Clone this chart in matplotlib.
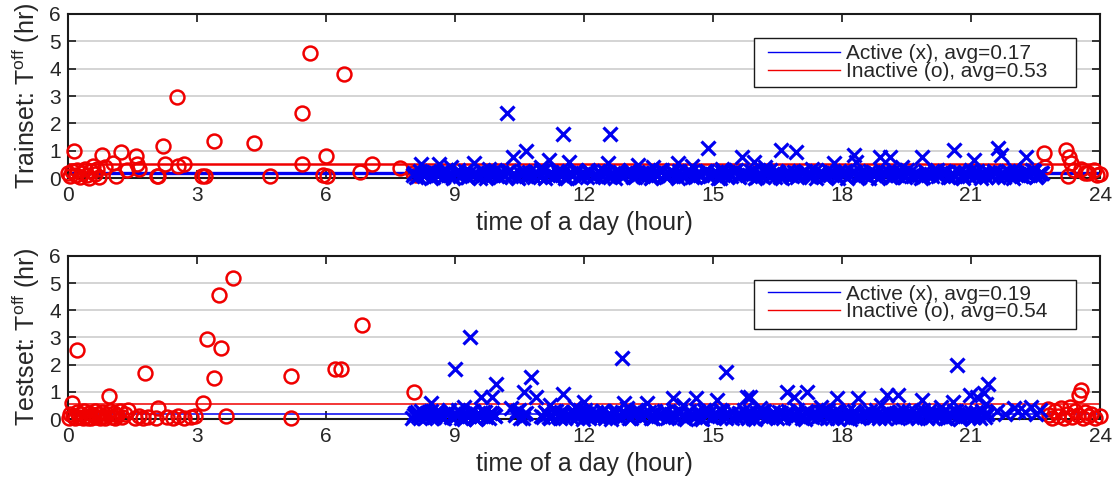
import matplotlib
matplotlib.use("Agg")
import matplotlib.pyplot as plt
from matplotlib.lines import Line2D
from matplotlib.patches import Rectangle

plt.rcParams["font.family"] = ["Liberation Sans", "DejaVu Sans"]
plt.rcParams["mathtext.fontset"] = "custom"
plt.rcParams["mathtext.rm"] = "Liberation Sans"
plt.rcParams["mathtext.it"] = "Liberation Sans:italic"

# ---------------- Trainset ----------------
train_active_avg = 0.17
train_inactive_avg = 0.53

train_inactive_t = [0.15, 0.00, 0.05, 0.10, 0.18, 0.22, 0.28, 0.33, 0.40, 0.45,
                    0.50, 0.53, 0.58, 0.62, 0.68, 0.72, 0.80, 0.85, 1.05, 1.12,
                    1.24, 1.37, 1.58, 1.60, 1.66, 2.07, 2.10, 2.20, 2.26, 2.53,
                    2.56, 2.70, 3.12, 3.18, 3.40, 4.32, 4.69, 5.44, 5.45, 5.62,
                    5.93, 5.99, 6.02, 6.42, 6.80, 7.08, 7.73, 8.03, 8.10,
                    22.70, 22.72, 23.21, 23.25, 23.28, 23.32, 23.40, 23.56, 23.65, 23.71,
                    23.86, 23.92, 24.00]
train_inactive_v = [1.00, 0.18, 0.08, 0.25, 0.12, 0.30, 0.05, 0.20, 0.35, 0.10,
                    0.02, 0.25, 0.45, 0.15, 0.32, 0.05, 0.85, 0.40, 0.55, 0.06,
                    0.94, 0.29, 0.80, 0.50, 0.35, 0.07, 0.06, 1.18, 0.52, 2.96,
                    0.45, 0.51, 0.06, 0.06, 1.34, 1.28, 0.06, 2.38, 0.51, 4.57,
                    0.12, 0.79, 0.06, 3.82, 0.24, 0.52, 0.37, 0.18, 0.10,
                    0.91, 0.40, 1.02, 0.07, 0.77, 0.55, 0.30, 0.35, 0.20, 0.17,
                    0.29, 0.10, 0.15]

train_active_t = [8.02, 8.09, 8.18, 8.27, 8.33, 8.44, 8.51, 8.60, 8.71, 8.78,
                  8.87, 8.96, 9.05, 9.12, 9.23, 9.31, 9.40, 9.49, 9.57, 9.68,
                  9.75, 9.84, 9.93, 10.04, 10.11, 10.20, 10.31, 10.38, 10.47, 10.58,
                  10.66, 10.73, 10.84, 10.93, 11.01, 11.10, 11.21, 11.28, 11.37, 11.48,
                  11.55, 11.66, 11.74, 11.83, 11.92, 12.02, 12.09, 12.20, 12.29, 12.36,
                  12.47, 12.55, 12.64, 12.73, 12.83, 12.90, 13.01, 13.08, 13.19, 13.27,
                  13.36, 13.44, 13.55, 13.62, 13.73, 13.81, 13.90, 13.99, 14.08, 14.18,
                  14.25, 14.35, 14.44, 14.52, 14.63, 14.70, 14.81, 14.89, 14.98, 15.07,
                  15.16, 15.24, 15.35, 15.42, 15.53, 15.61, 15.70, 15.79, 15.88, 15.97,
                  16.06, 16.14, 16.25, 16.32, 16.43, 16.50, 16.61, 16.69, 16.78, 16.88,
                  16.95, 17.05, 17.13, 17.22, 17.31, 17.40, 17.49, 17.57, 17.68, 17.75,
                  17.86, 17.93, 18.04, 18.12, 18.22, 18.30, 18.39, 18.48, 18.58, 18.65,
                  18.76, 18.83, 18.94, 19.02, 19.11, 19.21, 19.28, 19.39, 19.46, 19.57,
                  19.64, 19.75, 19.83, 19.93, 20.01, 20.10, 20.20, 20.27, 20.38, 20.46,
                  20.56, 20.63, 20.74, 20.82, 20.91, 21.00, 21.09, 21.18, 21.27, 21.35,
                  21.45, 21.53, 21.62, 21.71, 21.80, 21.89, 21.98, 22.06, 22.16, 22.24,
                  22.33, 22.41, 22.50, 22.58, 22.66,
                  8.05, 8.13, 8.24, 8.40, 8.48, 8.56, 8.67, 8.83, 8.92, 9.00,
                  9.08, 9.17, 9.27, 9.36, 9.44, 9.53, 9.63, 9.72, 9.80, 9.89,
                  9.97, 10.08, 10.16, 10.25, 10.35, 10.43, 10.52, 10.62, 10.70, 10.79,
                  10.88, 10.97, 11.06, 11.16, 11.24, 11.33, 11.42, 11.52, 11.60, 11.70,
                  11.79, 11.88, 11.97, 12.06, 12.15, 12.25, 12.33, 12.42, 12.51, 12.60,
                  12.69, 12.78, 12.87, 12.96, 13.05, 13.14, 13.23, 13.32, 13.41, 13.50,
                  13.59, 13.68, 13.77, 13.86, 13.95, 14.04, 14.13, 14.22, 14.31, 14.40,
                  14.48, 14.57, 14.66, 14.75, 14.85, 14.94, 15.03, 15.12, 15.20, 15.30,
                  15.39, 15.48, 15.57, 15.66, 15.75, 15.84, 15.93, 16.02, 16.10, 16.20,
                  16.29, 16.38, 16.47, 16.56, 16.65, 16.74, 16.83, 16.92, 17.00, 17.10,
                  17.18, 17.27, 17.36, 17.45, 17.54, 17.63, 17.72, 17.81, 17.90, 17.99,
                  18.08, 18.17, 18.26, 18.35, 18.44, 18.53, 18.62, 18.71, 18.80, 18.89,
                  18.98, 19.07, 19.16, 19.25, 19.34, 19.43, 19.52, 19.61, 19.70, 19.79,
                  19.88, 19.97, 20.06, 20.15, 20.24, 20.33, 20.42, 20.51, 20.60, 20.69,
                  20.78, 20.87, 20.96, 21.05, 21.14, 21.23, 21.31, 21.40, 21.49, 21.58,
                  21.67, 21.76, 21.85, 21.94, 22.03, 22.12, 22.20, 22.29, 22.37, 22.46,
                  22.54, 22.62,
                  8.20, 8.62, 9.45, 10.21, 10.36, 10.65, 11.19, 11.52, 11.64, 12.55,
                  12.60, 13.25, 14.18, 14.88, 15.68, 15.95, 16.57, 16.92, 17.82, 18.28,
                  18.32, 18.88, 19.11, 19.87, 20.61, 21.07, 21.62, 21.69, 22.28,
                  8.90, 9.80, 11.00, 12.10, 13.60, 14.50, 15.20, 16.20, 17.30, 19.40,
                  20.20, 22.00]
train_active_v = [0.12, 0.03, 0.25, 0.08, 0.18, 0.01, 0.22, 0.10, 0.05, 0.28,
                  0.15, 0.02, 0.20, 0.09, 0.26, 0.04, 0.13, 0.19, 0.01, 0.24,
                  0.07, 0.17, 0.29, 0.03, 0.11, 0.21, 0.06, 0.16, 0.02, 0.27,
                  0.09, 0.23, 0.04, 0.14, 0.30, 0.01, 0.18, 0.08, 0.25, 0.12,
                  0.02, 0.20, 0.10, 0.27, 0.05, 0.15, 0.22, 0.03, 0.11, 0.19,
                  0.26, 0.06, 0.13, 0.01, 0.21, 0.09, 0.17, 0.28, 0.04, 0.14,
                  0.08, 0.24, 0.02, 0.19, 0.11, 0.29, 0.05, 0.16, 0.22, 0.01,
                  0.13, 0.07, 0.25, 0.03, 0.18, 0.10, 0.27, 0.06, 0.15, 0.21,
                  0.01, 0.12, 0.23, 0.09, 0.30, 0.04, 0.17, 0.11, 0.26, 0.02,
                  0.20, 0.08, 0.14, 0.28, 0.05, 0.22, 0.01, 0.16, 0.10, 0.24,
                  0.03, 0.19, 0.27, 0.07, 0.13, 0.02, 0.21, 0.09, 0.29, 0.15,
                  0.06, 0.25, 0.11, 0.01, 0.18, 0.23, 0.04, 0.14, 0.08, 0.26,
                  0.17, 0.02, 0.22, 0.12, 0.05, 0.28, 0.10, 0.19, 0.03, 0.24,
                  0.09, 0.15, 0.01, 0.27, 0.13, 0.06, 0.20, 0.11, 0.25, 0.04,
                  0.18, 0.08, 0.23, 0.02, 0.16, 0.29, 0.07, 0.12, 0.21, 0.05,
                  0.14, 0.26, 0.03, 0.19, 0.10, 0.24, 0.01, 0.17, 0.08, 0.22,
                  0.11, 0.28, 0.04, 0.15, 0.20,
                  0.20, 0.07, 0.14, 0.27, 0.03, 0.17, 0.23, 0.11, 0.06, 0.19,
                  0.28, 0.12, 0.04, 0.22, 0.16, 0.09, 0.25, 0.02, 0.18, 0.13,
                  0.06, 0.21, 0.10, 0.26, 0.15, 0.03, 0.19, 0.24, 0.08, 0.12,
                  0.17, 0.05, 0.28, 0.11, 0.20, 0.07, 0.14, 0.23, 0.02, 0.18,
                  0.25, 0.09, 0.16, 0.04, 0.21, 0.12, 0.27, 0.07, 0.19, 0.03,
                  0.14, 0.22, 0.08, 0.18, 0.26, 0.05, 0.11, 0.20, 0.15, 0.24,
                  0.03, 0.17, 0.28, 0.10, 0.06, 0.21, 0.13, 0.25, 0.09, 0.16,
                  0.22, 0.04, 0.19, 0.12, 0.27, 0.08, 0.15, 0.02, 0.23, 0.11,
                  0.18, 0.26, 0.06, 0.14, 0.20, 0.10, 0.24, 0.05, 0.17, 0.28,
                  0.09, 0.13, 0.21, 0.03, 0.16, 0.25, 0.07, 0.19, 0.12, 0.22,
                  0.15, 0.04, 0.26, 0.11, 0.18, 0.08, 0.23, 0.14, 0.01, 0.20,
                  0.27, 0.10, 0.17, 0.06, 0.24, 0.13, 0.02, 0.21, 0.16, 0.09,
                  0.19, 0.25, 0.05, 0.14, 0.22, 0.11, 0.28, 0.07, 0.18, 0.12,
                  0.03, 0.20, 0.15, 0.26, 0.08, 0.17, 0.23, 0.04, 0.13, 0.21,
                  0.10, 0.24, 0.06, 0.18, 0.27, 0.02, 0.15, 0.22, 0.09, 0.19,
                  0.14, 0.05, 0.25, 0.11, 0.20, 0.16, 0.07, 0.23, 0.12, 0.26,
                  0.08, 0.18,
                  0.50, 0.50, 0.54, 2.37, 0.78, 1.00, 0.66, 1.60, 0.60, 0.55,
                  1.60, 0.48, 0.54, 1.11, 0.78, 0.60, 1.03, 0.96, 0.54, 0.85,
                  0.60, 0.78, 0.78, 0.78, 1.03, 0.66, 1.10, 0.85, 0.78,
                  0.40, 0.35, 0.40, 0.30, 0.40, 0.45, 0.35, 0.40, 0.35, 0.40,
                  0.30, 0.35]

# ---------------- Testset ----------------
test_active_avg = 0.19
test_inactive_avg = 0.54

test_inactive_t = [0.02, 0.05, 0.09, 0.12, 0.16, 0.20, 0.22, 0.25, 0.30, 0.34,
                   0.38, 0.42, 0.46, 0.50, 0.54, 0.58, 0.62, 0.66, 0.70, 0.74,
                   0.78, 0.82, 0.86, 0.90, 0.96, 0.98, 1.02, 1.06, 1.10, 1.14,
                   1.20, 1.26, 1.32, 1.40, 1.55, 1.65, 1.75, 1.79, 1.85, 2.05,
                   2.10, 2.30, 2.45, 2.55, 2.70, 2.85, 2.95, 3.13, 3.24, 3.39,
                   3.51, 3.55, 3.67, 3.83, 5.19, 5.19, 6.21, 6.35, 6.83, 8.04,
                   22.78, 22.82, 22.88, 22.95, 23.02, 23.10, 23.15, 23.22, 23.30, 23.35,
                   23.42, 23.48, 23.52, 23.56, 23.60, 23.65, 23.72, 23.80, 23.88, 23.99]
test_inactive_v = [0.05, 0.20, 0.60, 0.10, 0.02, 0.25, 2.52, 0.08, 0.18, 0.03,
                   0.28, 0.12, 0.05, 0.22, 0.02, 0.15, 0.30, 0.08, 0.20, 0.03,
                   0.25, 0.12, 0.05, 0.18, 0.85, 0.30, 0.08, 0.22, 0.02, 0.15,
                   0.28, 0.06, 0.18, 0.33, 0.05, 0.10, 0.04, 1.68, 0.08, 0.05,
                   0.40, 0.06, 0.03, 0.10, 0.05, 0.08, 0.12, 0.60, 2.94, 1.50,
                   4.56, 2.60, 0.11, 5.18, 1.58, 0.02, 1.83, 1.83, 3.46, 1.00,
                   0.37, 0.15, 0.05, 0.28, 0.10, 0.40, 0.02, 0.20, 0.45, 0.08,
                   0.30, 0.15, 0.90, 1.08, 0.05, 0.25, 0.10, 0.18, 0.05, 0.12]

test_active_t = [8.01, 8.07, 8.15, 8.22, 8.31, 8.38, 8.47, 8.55, 8.62, 8.71,
                 8.79, 8.86, 8.95, 9.04, 9.11, 9.20, 9.28, 9.37, 9.45, 9.52,
                 9.61, 9.69, 9.78, 9.86, 9.94, 10.40, 10.48, 10.57, 10.66, 11.05,
                 11.13, 11.22, 11.30, 11.39, 11.47, 11.56, 11.64, 11.73, 11.81, 11.90,
                 11.98, 12.07, 12.15, 12.24, 12.32, 12.41, 12.49, 12.58, 12.66, 12.75,
                 12.83, 12.92, 13.00, 13.09, 13.17, 13.26, 13.34, 13.43, 13.51, 13.60,
                 13.68, 13.77, 13.85, 13.94, 14.02, 14.11, 14.19, 14.28, 14.36, 14.45,
                 14.53, 14.62, 14.70, 14.79, 14.87, 14.96, 15.04, 15.13, 15.21, 15.30,
                 15.38, 15.47, 15.55, 15.64, 15.72, 15.81, 15.89, 15.98, 16.06, 16.15,
                 16.23, 16.32, 16.40, 16.49, 16.57, 16.66, 16.74, 16.83, 16.91, 17.00,
                 17.08, 17.17, 17.25, 17.34, 17.42, 17.51, 17.59, 17.68, 17.76, 17.85,
                 17.93, 18.02, 18.10, 18.19, 18.27, 18.36, 18.44, 18.53, 18.61, 18.70,
                 18.78, 18.87, 18.95, 19.04, 19.12, 19.21, 19.29, 19.38, 19.46, 19.55,
                 19.63, 19.72, 19.80, 19.89, 19.97, 20.06, 20.14, 20.23, 20.31, 20.40,
                 20.48, 20.57, 20.65, 20.74, 20.82, 20.91, 20.99, 21.08, 21.16, 21.25,
                 21.33, 21.38,
                 8.04, 8.11, 8.19, 8.27, 8.35, 8.43, 8.51, 8.59, 8.67, 8.75,
                 8.83, 8.91, 8.99, 9.07, 9.15, 9.24, 9.32, 9.41, 9.49, 9.57,
                 9.65, 9.73, 9.82, 9.90, 10.44, 10.52, 10.61, 11.01, 11.09, 11.18,
                 11.26, 11.35, 11.43, 11.52, 11.60, 11.69, 11.77, 11.86, 11.94, 12.03,
                 12.11, 12.20, 12.28, 12.37, 12.45, 12.54, 12.62, 12.71, 12.79, 12.88,
                 12.96, 13.05, 13.13, 13.22, 13.30, 13.39, 13.47, 13.56, 13.64, 13.73,
                 13.81, 13.90, 13.98, 14.07, 14.15, 14.24, 14.32, 14.41, 14.49, 14.58,
                 14.66, 14.75, 14.83, 14.92, 15.00, 15.09, 15.17, 15.26, 15.34, 15.43,
                 15.51, 15.60, 15.68, 15.77, 15.85, 15.94, 16.02, 16.11, 16.19, 16.28,
                 16.36, 16.45, 16.53, 16.62, 16.70, 16.79, 16.87, 16.96, 17.04, 17.13,
                 17.21, 17.30, 17.38, 17.47, 17.55, 17.64, 17.72, 17.81, 17.89, 17.98,
                 18.06, 18.15, 18.23, 18.32, 18.40, 18.49, 18.57, 18.66, 18.74, 18.83,
                 18.91, 19.00, 19.08, 19.17, 19.25, 19.34, 19.42, 19.51, 19.59, 19.68,
                 19.76, 19.85, 19.93, 20.02, 20.10, 20.19, 20.27, 20.36, 20.44, 20.53,
                 20.61, 20.70, 20.78, 20.87, 20.95, 21.04, 21.12, 21.21, 21.29, 21.36,
                 8.44, 8.99, 9.36, 9.60, 9.85, 9.96, 10.60, 10.77, 10.89, 11.52,
                 12.00, 12.89, 12.93, 13.47, 14.06, 14.60, 15.10, 15.31, 15.80, 15.87,
                 16.73, 16.88, 17.19, 17.88, 18.38, 19.04, 19.31, 19.85, 20.59, 20.67,
                 20.98, 21.13, 21.29, 21.39, 21.35,
                 21.60, 21.80, 22.00, 22.10, 22.25, 22.40, 22.50, 22.60,
                 9.20, 10.30, 11.20, 11.80, 13.00, 14.30, 16.10, 17.50, 18.90, 20.30]
test_active_v = [0.05, 0.22, 0.12, 0.31, 0.02, 0.18, 0.09, 0.26, 0.14, 0.03,
                 0.20, 0.33, 0.07, 0.15, 0.24, 0.01, 0.11, 0.29, 0.06, 0.19,
                 0.13, 0.27, 0.04, 0.21, 0.10, 0.16, 0.32, 0.02, 0.23, 0.08,
                 0.18, 0.05, 0.30, 0.12, 0.25, 0.03, 0.15, 0.21, 0.09, 0.34,
                 0.01, 0.17, 0.26, 0.07, 0.13, 0.28, 0.04, 0.20, 0.11, 0.31,
                 0.06, 0.24, 0.14, 0.02, 0.19, 0.33, 0.09, 0.16, 0.27, 0.03,
                 0.22, 0.11, 0.30, 0.05, 0.18, 0.08, 0.25, 0.14, 0.01, 0.29,
                 0.12, 0.20, 0.04, 0.32, 0.15, 0.07, 0.23, 0.10, 0.28, 0.02,
                 0.17, 0.26, 0.09, 0.13, 0.34, 0.05, 0.21, 0.01, 0.19, 0.30,
                 0.08, 0.14, 0.27, 0.03, 0.22, 0.11, 0.31, 0.06, 0.16, 0.24,
                 0.02, 0.29, 0.12, 0.20, 0.07, 0.25, 0.15, 0.33, 0.04, 0.18,
                 0.26, 0.09, 0.21, 0.01, 0.30, 0.13, 0.06, 0.23, 0.17, 0.10,
                 0.32, 0.04, 0.16, 0.27, 0.08, 0.19, 0.02, 0.24, 0.12, 0.28,
                 0.07, 0.21, 0.11, 0.34, 0.03, 0.15, 0.26, 0.09, 0.18, 0.05,
                 0.23, 0.13, 0.30, 0.01, 0.20, 0.10, 0.27, 0.06, 0.16, 0.31,
                 0.08, 0.19,
                 0.15, 0.26, 0.04, 0.19, 0.11, 0.30, 0.07, 0.22, 0.13, 0.02,
                 0.24, 0.09, 0.17, 0.33, 0.05, 0.20, 0.12, 0.28, 0.01, 0.16,
                 0.27, 0.06, 0.21, 0.14, 0.31, 0.03, 0.18, 0.10, 0.25, 0.08,
                 0.13, 0.29, 0.02, 0.22, 0.16, 0.07, 0.26, 0.11, 0.19, 0.34,
                 0.04, 0.18, 0.25, 0.09, 0.30, 0.14, 0.01, 0.21, 0.12, 0.27,
                 0.20, 0.05, 0.15, 0.32, 0.08, 0.23, 0.17, 0.03, 0.28, 0.10,
                 0.16, 0.26, 0.06, 0.19, 0.12, 0.31, 0.04, 0.22, 0.14, 0.09,
                 0.29, 0.01, 0.18, 0.25, 0.07, 0.15, 0.33, 0.11, 0.20, 0.03,
                 0.12, 0.24, 0.08, 0.17, 0.28, 0.02, 0.21, 0.13, 0.30, 0.06,
                 0.19, 0.10, 0.27, 0.04, 0.16, 0.23, 0.09, 0.32, 0.14, 0.01,
                 0.25, 0.07, 0.20, 0.12, 0.29, 0.05, 0.18, 0.26, 0.03, 0.15,
                 0.09, 0.31, 0.13, 0.22, 0.02, 0.19, 0.11, 0.28, 0.06, 0.24,
                 0.17, 0.04, 0.26, 0.10, 0.21, 0.14, 0.33, 0.08, 0.18, 0.12,
                 0.02, 0.23, 0.15, 0.30, 0.07, 0.20, 0.11, 0.27, 0.05, 0.16,
                 0.28, 0.13, 0.06, 0.22, 0.18, 0.09, 0.25, 0.03, 0.14, 0.21,
                 0.58, 1.83, 3.03, 0.81, 0.81, 1.29, 1.00, 1.53, 0.81, 0.91,
                 0.62, 2.23, 0.58, 0.58, 0.77, 0.77, 0.71, 1.74, 0.81, 0.81,
                 1.00, 0.81, 1.00, 0.76, 0.76, 0.88, 0.88, 0.70, 0.64, 1.99,
                 0.88, 0.81, 0.95, 1.29, 0.55,
                 0.30, 0.20, 0.42, 0.30, 0.25, 0.45, 0.20, 0.35,
                 0.45, 0.40, 0.50, 0.45, 0.40, 0.50, 0.40, 0.45, 0.50, 0.45]

x_ticks = [0, 3, 6, 9, 12, 15, 18, 21, 24]
y_ticks = [0, 1, 2, 3, 4, 5, 6]
x_label = "time of a day (hour)"

BLUE = "#0000f0"
RED = "#f00000"
TEXT = "#262626"


def draw_panel(ax, act_t, act_v, inact_t, inact_v, act_avg, inact_avg, name,
               avg_lw, legend_rows_y):
    ax.axhline(act_avg, color=BLUE, lw=avg_lw[0], zorder=2)
    ax.axhline(inact_avg, color=RED, lw=avg_lw[1], zorder=2)
    ax.plot(inact_t, inact_v, ls="none", marker="o", ms=10, mfc="none",
            mec=RED, mew=1.8, zorder=3, clip_on=False)
    ax.plot(act_t, act_v, ls="none", marker="x", ms=10, mec=BLUE,
            mew=2.3, zorder=4, clip_on=False)

    ax.set_xlim(0, 24)
    ax.set_ylim(0, 6)
    ax.set_xticks(x_ticks)
    ax.set_yticks(y_ticks)
    ax.yaxis.grid(True, color="#d4d4d4", lw=1.4)
    ax.set_axisbelow(True)
    ax.tick_params(direction="in", length=6, width=1.3, top=True, right=True,
                   labelsize=15, colors=TEXT)
    ax.tick_params(axis="x", pad=6)
    ax.tick_params(axis="y", pad=5)
    for s in ax.spines.values():
        s.set_linewidth(1.5)
        s.set_color("#1a1a1a")
    ax.set_xlabel(x_label, fontsize=18, color=TEXT, labelpad=4)
    ax.set_ylabel(name + r": T$^{\mathrm{off}}$ (hr)", fontsize=18,
                  color=TEXT, labelpad=5)

    # legend box (drawn separately so its width can exceed the text)
    box = Rectangle((0.665, 0.553), 0.312, 0.301, transform=ax.transAxes,
                    facecolor="white", edgecolor="#1a1a1a", lw=1.0, zorder=6)
    ax.add_patch(box)
    handles = [Line2D([], [], color=BLUE, lw=1.0),
               Line2D([], [], color=RED, lw=1.0)]
    labels = [f"Active (x), avg={act_avg:.2f}",
              f"Inactive (o), avg={inact_avg:.2f}"]
    leg = ax.legend(handles, labels, loc="center left",
                    bbox_to_anchor=(0.678, legend_rows_y), fontsize=15,
                    frameon=False, borderaxespad=0, borderpad=0,
                    labelspacing=-0.05, handlelength=3.45, handletextpad=0.3)
    leg.set_zorder(7)
    for txt in leg.get_texts():
        txt.set_color(TEXT)


fig = plt.figure(figsize=(11.2, 4.8), dpi=100)
ax_top = fig.add_axes([0.0607, 0.629, 0.9215, 0.342])
ax_bot = fig.add_axes([0.0607, 0.127, 0.9215, 0.340])

draw_panel(ax_top, train_active_t, train_active_v, train_inactive_t, train_inactive_v,
           train_active_avg, train_inactive_avg, "Trainset", (2.4, 1.8), 0.704)
draw_panel(ax_bot, test_active_t, test_active_v, test_inactive_t, test_inactive_v,
           test_active_avg, test_inactive_avg, "Testset", (1.1, 1.1), 0.711)

fig.savefig("out.png", dpi=100, facecolor="white")
